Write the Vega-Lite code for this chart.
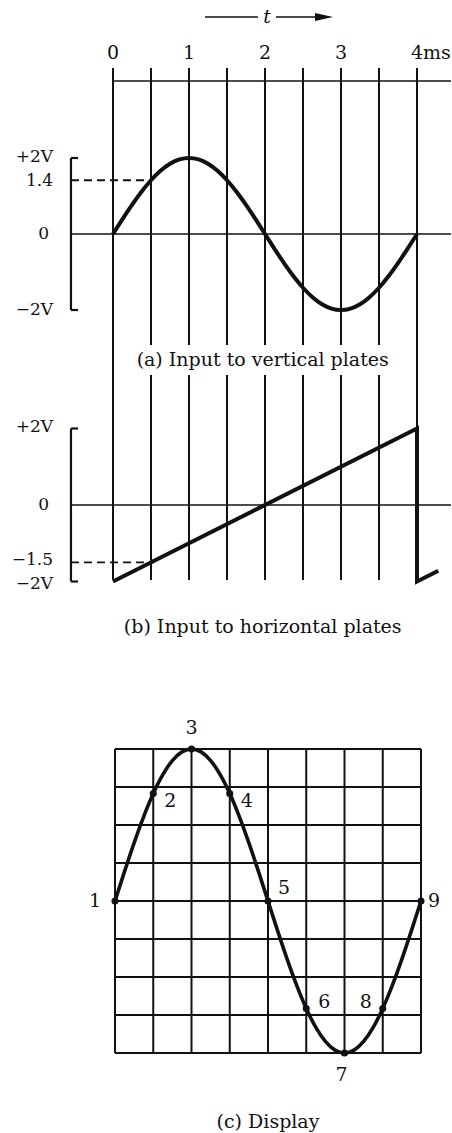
{
  "$schema": "https://vega.github.io/schema/vega-lite/v6.json",
  "width": 452,
  "height": 1133,
  "autosize": {"type": "none"},
  "padding": 0,
  "background": "white",
  "config": {
    "view": {"stroke": null},
    "axis": {"disable": true},
    "text": {"font": "DejaVu Serif", "fontSize": 19, "color": "#111", "baseline": "middle"},
    "rule": {"color": "#111"},
    "line": {"color": "#111"},
    "point": {"color": "#111"}
  },
  "datasets": {
    "timeGridA": [
      {"t": 0, "v": 4.368, "v2": -3.711},
      {"t": 0.5, "v": 4.368, "v2": -2.921},
      {"t": 1, "v": 4.368, "v2": -2.921},
      {"t": 1.5, "v": 4.368, "v2": -2.921},
      {"t": 2, "v": 4.368, "v2": -2.921},
      {"t": 2.5, "v": 4.368, "v2": -2.921},
      {"t": 3, "v": 4.368, "v2": -2.921},
      {"t": 3.5, "v": 4.368, "v2": -2.921},
      {"t": 4, "v": 4.368, "v2": -3.711}
    ],
    "timeGridB": [
      {"t": 0, "v": 3.399, "v2": -1.961},
      {"t": 0.5, "v": 3.399, "v2": -1.961},
      {"t": 1, "v": 3.399, "v2": -1.961},
      {"t": 1.5, "v": 3.399, "v2": -1.961},
      {"t": 2, "v": 3.399, "v2": -1.961},
      {"t": 2.5, "v": 3.399, "v2": -1.961},
      {"t": 3, "v": 3.399, "v2": -1.961},
      {"t": 3.5, "v": 3.399, "v2": -1.961},
      {"t": 4, "v": 3.399, "v2": -1.961}
    ],
    "topLine": [{"t": 0, "t2": 4.447, "v": 4.026}],
    "zeroLine": [{"t": -0.553, "t2": 4.447, "v": 0}],
    "bracketV": [{"t": -0.553, "v": 2, "v2": -2}],
    "bracketH": [
      {"t": -0.553, "t2": -0.46, "v": 2},
      {"t": -0.553, "t2": -0.46, "v": -2}
    ],
    "dashA": [{"t": -0.553, "t2": 0.5, "v": 1.414}],
    "dashB": [{"t": -0.553, "t2": 0.5, "v": -1.5}],
    "timeTicks": [
      {"t": 0, "v": 4.763, "label": "0"},
      {"t": 1, "v": 4.763, "label": "1"},
      {"t": 2, "v": 4.763, "label": "2"},
      {"t": 3, "v": 4.763, "label": "3"},
      {"t": 4, "v": 4.763, "label": "4ms"}
    ],
    "arrowLine": [
      {"t": 1.2105, "t2": 1.908, "v": 5.71},
      {"t": 2.145, "t2": 2.70, "v": 5.71}
    ],
    "arrowHead": [{"t": 2.776, "v": 5.71}],
    "arrowLabel": [{"t": 2.026, "v": 5.71, "label": "t"}],
    "wave": [
      {"t": 0, "v": 0}, {"t": 0.125, "v": 0.39}, {"t": 0.25, "v": 0.765}, {"t": 0.375, "v": 1.111},
      {"t": 0.5, "v": 1.414}, {"t": 0.625, "v": 1.663}, {"t": 0.75, "v": 1.848}, {"t": 0.875, "v": 1.962},
      {"t": 1, "v": 2}, {"t": 1.125, "v": 1.962}, {"t": 1.25, "v": 1.848}, {"t": 1.375, "v": 1.663},
      {"t": 1.5, "v": 1.414}, {"t": 1.625, "v": 1.111}, {"t": 1.75, "v": 0.765}, {"t": 1.875, "v": 0.39},
      {"t": 2, "v": 0}, {"t": 2.125, "v": -0.39}, {"t": 2.25, "v": -0.765}, {"t": 2.375, "v": -1.111},
      {"t": 2.5, "v": -1.414}, {"t": 2.625, "v": -1.663}, {"t": 2.75, "v": -1.848}, {"t": 2.875, "v": -1.962},
      {"t": 3, "v": -2}, {"t": 3.125, "v": -1.962}, {"t": 3.25, "v": -1.848}, {"t": 3.375, "v": -1.663},
      {"t": 3.5, "v": -1.414}, {"t": 3.625, "v": -1.111}, {"t": 3.75, "v": -0.765}, {"t": 3.875, "v": -0.39},
      {"t": 4, "v": 0}
    ],
    "ramp": [
      {"i": 1, "t": 0, "v": -2},
      {"i": 2, "t": 4, "v": 2},
      {"i": 3, "t": 4, "v": -2},
      {"i": 4, "t": 4.28, "v": -1.72}
    ],
    "labelsA": [
      {"label": "+2V", "t": -0.789, "v": 2.02},
      {"label": "1.4", "t": -0.789, "v": 1.39},
      {"label": "0", "t": -0.842, "v": 0},
      {"label": "−2V", "t": -0.789, "v": -2}
    ],
    "labelsB": [
      {"label": "+2V", "t": -0.789, "v": 2.05},
      {"label": "0", "t": -0.842, "v": 0},
      {"label": "−1.5", "t": -0.789, "v": -1.44},
      {"label": "−2V", "t": -0.789, "v": -2.06}
    ],
    "captionA": [{"t": 1.97, "v": -3.316, "label": "(a) Input to vertical plates"}],
    "captionB": [{"t": 1.97, "v": -3.19, "label": "(b) Input to horizontal plates"}],
    "gridCV": [
      {"h": -2, "v": -2, "v2": 2}, {"h": -1.5, "v": -2, "v2": 2}, {"h": -1, "v": -2, "v2": 2},
      {"h": -0.5, "v": -2, "v2": 2}, {"h": 0, "v": -2, "v2": 2}, {"h": 0.5, "v": -2, "v2": 2},
      {"h": 1, "v": -2, "v2": 2}, {"h": 1.5, "v": -2, "v2": 2}, {"h": 2, "v": -2, "v2": 2}
    ],
    "gridCH": [
      {"v": -2, "h": -2, "h2": 2}, {"v": -1.5, "h": -2, "h2": 2}, {"v": -1, "h": -2, "h2": 2},
      {"v": -0.5, "h": -2, "h2": 2}, {"v": 0, "h": -2, "h2": 2}, {"v": 0.5, "h": -2, "h2": 2},
      {"v": 1, "h": -2, "h2": 2}, {"v": 1.5, "h": -2, "h2": 2}, {"v": 2, "h": -2, "h2": 2}
    ],
    "display": [
      {"h": -2, "v": 0}, {"h": -1.875, "v": 0.39}, {"h": -1.75, "v": 0.765}, {"h": -1.625, "v": 1.111},
      {"h": -1.5, "v": 1.414}, {"h": -1.375, "v": 1.663}, {"h": -1.25, "v": 1.848}, {"h": -1.125, "v": 1.962},
      {"h": -1, "v": 2}, {"h": -0.875, "v": 1.962}, {"h": -0.75, "v": 1.848}, {"h": -0.625, "v": 1.663},
      {"h": -0.5, "v": 1.414}, {"h": -0.375, "v": 1.111}, {"h": -0.25, "v": 0.765}, {"h": -0.125, "v": 0.39},
      {"h": 0, "v": 0}, {"h": 0.125, "v": -0.39}, {"h": 0.25, "v": -0.765}, {"h": 0.375, "v": -1.111},
      {"h": 0.5, "v": -1.414}, {"h": 0.625, "v": -1.663}, {"h": 0.75, "v": -1.848}, {"h": 0.875, "v": -1.962},
      {"h": 1, "v": -2}, {"h": 1.125, "v": -1.962}, {"h": 1.25, "v": -1.848}, {"h": 1.375, "v": -1.663},
      {"h": 1.5, "v": -1.414}, {"h": 1.625, "v": -1.111}, {"h": 1.75, "v": -0.765}, {"h": 1.875, "v": -0.39},
      {"h": 2, "v": 0}
    ],
    "spots": [
      {"n": "1", "h": -2, "v": 0},
      {"n": "2", "h": -1.5, "v": 1.414},
      {"n": "3", "h": -1, "v": 2},
      {"n": "4", "h": -0.5, "v": 1.414},
      {"n": "5", "h": 0, "v": 0},
      {"n": "6", "h": 0.5, "v": -1.414},
      {"n": "7", "h": 1, "v": -2},
      {"n": "8", "h": 1.5, "v": -1.414},
      {"n": "9", "h": 2, "v": 0}
    ],
    "captionC": [{"h": 0, "v": -2.908, "label": "(c) Display"}]
  },
  "resolve": {"scale": {"x": "independent", "y": "independent"}},
  "layer": [
    {
      "encoding": {
        "x": {"field": "t", "type": "quantitative", "scale": {"domain": [-1.48684, 4.46053], "nice": false, "zero": false}},
        "y": {"field": "v", "type": "quantitative", "scale": {"domain": [-23.6579, 6.1579], "nice": false, "zero": false}}
      },
      "layer": [
        {"data": {"name": "timeGridA"}, "mark": {"type": "rule", "strokeWidth": 2}, "encoding": {"y2": {"field": "v2"}}},
        {"data": {"name": "topLine"}, "mark": {"type": "rule", "strokeWidth": 1.6}, "encoding": {"x2": {"field": "t2"}}},
        {"data": {"name": "zeroLine"}, "mark": {"type": "rule", "strokeWidth": 1.6}, "encoding": {"x2": {"field": "t2"}}},
        {"data": {"name": "bracketV"}, "mark": {"type": "rule", "strokeWidth": 2.2}, "encoding": {"y2": {"field": "v2"}}},
        {"data": {"name": "bracketH"}, "mark": {"type": "rule", "strokeWidth": 2.2}, "encoding": {"x2": {"field": "t2"}}},
        {"data": {"name": "dashA"}, "mark": {"type": "rule", "strokeWidth": 1.8, "strokeDash": [8, 5]}, "encoding": {"x2": {"field": "t2"}}},
        {"data": {"name": "wave"}, "mark": {"type": "line", "strokeWidth": 4, "interpolate": "monotone"}, "encoding": {}},
        {"data": {"name": "arrowLine"}, "mark": {"type": "rule", "strokeWidth": 1.6}, "encoding": {"x2": {"field": "t2"}}},
        {"data": {"name": "arrowHead"}, "mark": {"type": "point", "shape": "M-1,-0.45L1,0L-1,0.45Z", "filled": true, "opacity": 1, "size": 324}, "encoding": {}},
        {"data": {"name": "arrowLabel"}, "mark": {"type": "text", "fontStyle": "italic", "align": "center"}, "encoding": {"text": {"field": "label"}}},
        {"data": {"name": "timeTicks"}, "mark": {"type": "text", "align": "left", "dx": -6}, "encoding": {"text": {"field": "label"}}},
        {"data": {"name": "labelsA"}, "mark": {"type": "text", "align": "right", "fontSize": 17}, "encoding": {"text": {"field": "label"}}},
        {"data": {"name": "captionA"}, "mark": {"type": "text", "align": "center"}, "encoding": {"text": {"field": "label"}}}
      ]
    },
    {
      "encoding": {
        "x": {"field": "t", "type": "quantitative", "scale": {"domain": [-1.48684, 4.46053], "nice": false, "zero": false}},
        "y": {"field": "v", "type": "quantitative", "scale": {"domain": [-16.4183, 13.2026], "nice": false, "zero": false}}
      },
      "layer": [
        {"data": {"name": "timeGridB"}, "mark": {"type": "rule", "strokeWidth": 2}, "encoding": {"y2": {"field": "v2"}}},
        {"data": {"name": "zeroLine"}, "mark": {"type": "rule", "strokeWidth": 1.6}, "encoding": {"x2": {"field": "t2"}}},
        {"data": {"name": "bracketV"}, "mark": {"type": "rule", "strokeWidth": 2.2}, "encoding": {"y2": {"field": "v2"}}},
        {"data": {"name": "bracketH"}, "mark": {"type": "rule", "strokeWidth": 2.2}, "encoding": {"x2": {"field": "t2"}}},
        {"data": {"name": "dashB"}, "mark": {"type": "rule", "strokeWidth": 1.8, "strokeDash": [8, 5]}, "encoding": {"x2": {"field": "t2"}}},
        {"data": {"name": "ramp"}, "mark": {"type": "line", "strokeWidth": 4, "strokeJoin": "miter"}, "encoding": {"order": {"field": "i", "type": "quantitative"}}},
        {"data": {"name": "labelsB"}, "mark": {"type": "text", "align": "right", "fontSize": 17}, "encoding": {"text": {"field": "label"}}},
        {"data": {"name": "captionB"}, "mark": {"type": "text", "align": "center"}, "encoding": {"text": {"field": "label"}}}
      ]
    },
    {
      "encoding": {
        "x": {"field": "h", "type": "quantitative", "scale": {"domain": [-3.5033, 2.4052], "nice": false, "zero": false}},
        "y": {"field": "v", "type": "quantitative", "scale": {"domain": [-3.0526, 11.8553], "nice": false, "zero": false}}
      },
      "layer": [
        {"data": {"name": "gridCV"}, "mark": {"type": "rule", "strokeWidth": 2}, "encoding": {"y2": {"field": "v2"}}},
        {"data": {"name": "gridCH"}, "mark": {"type": "rule", "strokeWidth": 2}, "encoding": {"x2": {"field": "h2"}}},
        {"data": {"name": "display"}, "mark": {"type": "line", "strokeWidth": 3.6, "interpolate": "monotone"}, "encoding": {}},
        {"data": {"name": "spots"}, "mark": {"type": "point", "shape": "circle", "filled": true, "opacity": 1, "size": 50}, "encoding": {}},
        {"data": {"name": "spots"}, "transform": [{"filter": "datum.n == '1'"}], "mark": {"type": "text", "align": "center", "dx": -20}, "encoding": {"text": {"field": "n"}}},
        {"data": {"name": "spots"}, "transform": [{"filter": "datum.n == '2' || datum.n == '4'"}], "mark": {"type": "text", "align": "center", "dx": 17, "dy": 7}, "encoding": {"text": {"field": "n"}}},
        {"data": {"name": "spots"}, "transform": [{"filter": "datum.n == '3'"}], "mark": {"type": "text", "align": "center", "dy": -21}, "encoding": {"text": {"field": "n"}}},
        {"data": {"name": "spots"}, "transform": [{"filter": "datum.n == '5'"}], "mark": {"type": "text", "align": "center", "dx": 16, "dy": -13}, "encoding": {"text": {"field": "n"}}},
        {"data": {"name": "spots"}, "transform": [{"filter": "datum.n == '6'"}], "mark": {"type": "text", "align": "center", "dx": 18, "dy": -6}, "encoding": {"text": {"field": "n"}}},
        {"data": {"name": "spots"}, "transform": [{"filter": "datum.n == '7'"}], "mark": {"type": "text", "align": "center", "dx": -3, "dy": 22}, "encoding": {"text": {"field": "n"}}},
        {"data": {"name": "spots"}, "transform": [{"filter": "datum.n == '8'"}], "mark": {"type": "text", "align": "center", "dx": -17, "dy": -6}, "encoding": {"text": {"field": "n"}}},
        {"data": {"name": "spots"}, "transform": [{"filter": "datum.n == '9'"}], "mark": {"type": "text", "align": "center", "dx": 13}, "encoding": {"text": {"field": "n"}}},
        {"data": {"name": "captionC"}, "mark": {"type": "text", "align": "center"}, "encoding": {"text": {"field": "label"}}}
      ]
    }
  ]
}
